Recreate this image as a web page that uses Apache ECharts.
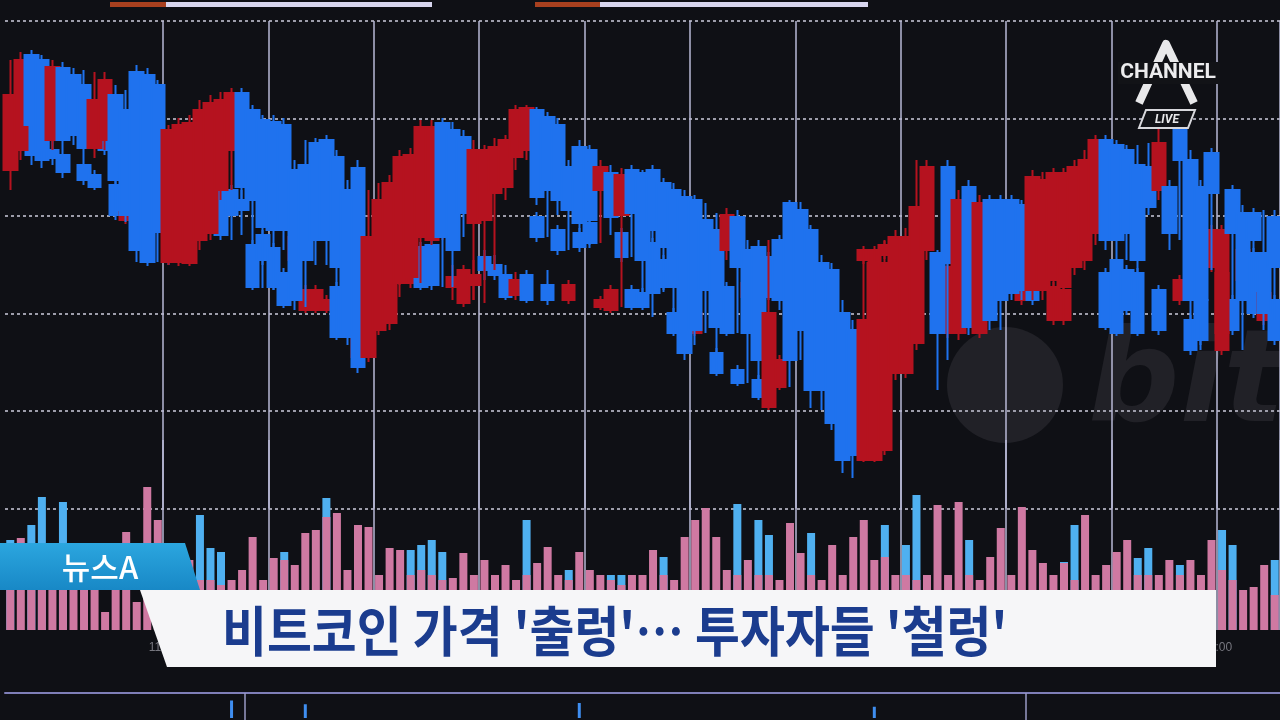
<!DOCTYPE html>
<html><head><meta charset="utf-8">
<script src="https://cdn.jsdelivr.net/npm/echarts@6/dist/echarts.min.js"></script>
<style>html,body{margin:0;padding:0;background:#0f1015;overflow:hidden}#c{width:1280px;height:720px;}</style>
</head><body><div id="c"></div>
<script>
// [open, close, lowest, highest]  (price units, x10,000 KRW)
const mainCandles = [
[826,901,806,936],[846,936,836,944],[941,871,861,946],[936,846,836,941],
[856,929,846,936],[928,856,846,934],[921,861,851,928],[911,848,836,926],[848,896,838,924],
[856,916,846,924],[901,816,781,911],[886,781,774,906],[924,746,734,931],[921,734,730,928],
[911,764,734,916],[734,866,731,871],[734,871,730,878],[733,873,730,881],[756,886,746,896],
[763,893,756,901],[806,896,796,904],[846,903,806,908],[903,809,796,908],[886,796,751,891],
[876,769,708,881],[874,766,706,881],[871,766,746,878],[826,696,686,836],[831,736,689,856],
[853,756,731,858],[856,756,731,861],[839,729,659,846],[806,659,651,816],[828,629,623,836],
[639,759,634,806],[666,796,661,813],[673,813,666,821],[713,839,699,846],[719,841,714,848],
[759,869,713,876],[756,869,751,876],[873,759,709,878],[866,746,709,874],[859,783,759,866],
[773,846,696,856],[776,846,693,851],[803,849,726,858],[809,856,796,861],[839,886,826,891],
[846,888,836,891],[886,799,791,889],[879,806,759,884],[871,796,781,878],[829,786,746,836],
[849,773,749,856],[846,776,751,851],[806,829,753,836],[823,779,761,831],[781,821,689,828],
[826,783,739,831],[823,736,689,826],[826,766,703,831],[813,749,706,818],[806,709,663,813],
[799,643,636,806],[796,666,651,801],[776,706,663,793],[766,669,623,783],[746,781,736,788],
[779,729,663,786],[746,663,613,756],[749,636,599,756],[589,683,586,756],[756,696,686,761],
[793,636,609,796],[786,666,636,794],[766,606,588,771],[733,606,586,741],[726,573,566,733],
[683,536,523,696],[666,541,518,676],[536,676,534,746],[536,733,534,746],[546,733,541,756],
[623,759,616,766],[623,759,618,768],[653,789,646,836],[746,829,736,836],[743,663,606,746],
[829,733,636,836],[663,796,656,806],[809,669,661,816],[663,793,658,801],[796,676,666,801],
[796,696,666,801],[796,703,696,801],[791,706,696,796],[706,819,696,826],[706,816,696,824],
[716,823,676,828],[709,823,676,828],[729,829,721,836],[736,836,726,846],[763,856,751,861],
[856,756,746,861],[851,756,741,856],[846,763,736,851],[831,736,666,851],[829,789,781,853],
[806,853,796,868],[809,763,746,816],[869,836,756,874],[836,696,646,846],[809,696,646,816],
[843,803,726,848],[646,766,641,771],[806,763,696,811],[783,696,646,791],[783,756,683,788],
[743,683,666,786],[779,729,676,786]
];
const ghostCandles = [
[836,876,831,881],[871,896,866,901],[876,841,831,881],[866,836,828,871],
[846,838,831,856],[841,824,818,846],[871,891,866,896],[831,816,811,836],[821,809,806,826],
[863,846,841,868],[811,781,776,816],[776,784,772,788],'-','-',
'-',[781,734,731,786],'-','-','-',
'-',[806,761,756,811],[806,781,756,811],[796,786,761,806],[751,709,706,756],
[761,736,731,766],[748,709,706,753],[723,691,688,728],[736,759,731,764],[686,706,683,711],
[686,706,683,711],[686,696,683,701],[709,659,656,714],[739,676,671,744],[639,666,636,671],
[666,709,661,714],[743,719,714,748],[699,716,696,721],[716,731,711,736],[713,753,708,758],
[749,709,706,754],[751,711,706,756],[759,776,756,781],[709,719,696,731],[693,726,689,731],
[711,721,696,736],[739,726,716,746],[731,721,716,741],[721,699,696,731],[701,716,696,724],
[721,696,693,726],[779,759,754,784],[711,696,691,726],[766,746,741,771],[696,711,692,716],
[763,749,744,768],[773,753,748,778],[689,696,686,700],[686,706,683,711],[763,739,734,768],
[706,689,686,711],[703,689,686,708],[753,703,679,758],[736,709,704,741],[683,663,660,688],
'-',[663,683,660,688],[733,743,728,748],[643,623,620,648],[709,663,660,714],
[626,613,610,631],[699,713,696,718],[616,599,596,621],[739,699,696,744],[609,636,606,641],
'-','-','-','-','-',
'-','-',[736,746,732,750],[734,746,730,750],[741,751,737,755],
[746,736,732,751],[734,746,730,750],'-','-','-',
[663,729,658,734],'-','-',[696,716,691,721],'-',
[706,723,701,728],'-',[696,716,691,721],[763,696,691,768],'-',
[676,709,671,714],[676,706,671,711],'-','-',[809,789,784,814],
[723,669,666,728],[736,663,660,741],[726,686,681,731],[723,663,660,728],'-',
[706,666,661,711],'-',[696,716,691,721],[676,646,641,681],[696,656,651,701],
[729,766,724,771],[663,723,658,728],[696,666,661,701],[716,746,711,751],[743,683,678,748],
[676,703,671,708],[696,656,651,701]
];
const mainVolume = [
70,92,85,70,75,70,65,60,55, 18,40,98,28,143,110,70,55,70,50,
50,45,50,60,93,50,72,70,65,97, 100,113,117,60,105,103,55,82,80,55,
60,55,50,52,77,55,70,55,65,50, 55,67,83,55,50,78,60,55,50,45,
55,55,80,55,50,93,110,122,93,60, 55,70,55,55,50,107,77,55,50,85,
55,93,110,70,73,55,55,50,55,125, 55,128,55,50,73,102,55,123,80,67,
55,67,50,115,55,65,78,90,55,55, 55,70,55,70,55,90,60,50,40,43,
65,35
];
const ghostVolume = [
90,'-',105,133,'-',128,'-','-','-', '-','-','-','-','-','-','-','-','-',115,
82,78,'-','-','-','-','-',78,'-','-', '-',132,'-','-','-','-','-','-','-',80,
85,90,78,'-','-','-','-','-','-','-', 110,'-','-','-',60,'-','-','-',55,55,
'-','-','-',73,'-','-','-','-','-','-', 126,'-',110,95,'-','-','-',97,'-','-',
'-','-','-','-',105,'-',85,135,'-','-', '-','-',90,'-','-','-','-','-','-','-',
'-',68,105,'-','-','-','-','-',72,82, '-','-',65,'-','-','-',100,85,'-','-',
'-',70
];
const bottomMarkIdx = [21, 28, 54, 82];
const bottomMarkVal = [14, 11, 12, 9];
const tickIdx = [15, 65, 115];
const tickText = ['11:00', '13:00', '15:00'];

const categories = mainCandles.map((_, i) => String(i));
const bottomData = bottomMarkIdx.map((k, n) => [String(k), bottomMarkVal[n]]);

const RED = '#b5121f', BLUE = '#1f72ee';
const vLine = (i) => i % 10 === 5 && i >= 15 && i <= 115;
const gridLeft = 5;

const xBase = (gi, extra) => Object.assign({
  type: 'category', data: categories, gridIndex: gi, boundaryGap: true,
  axisLine: { show: false }, axisTick: { show: false }, axisLabel: { show: false },
  splitLine: { show: true, interval: vLine, lineStyle: { color: '#b9b9d6', width: 1.5 } }
}, extra || {});

const option = {
  backgroundColor: '#0f1015',
  animation: false,
  grid: [
    { left: gridLeft, right: 0, top: 21, height: 487.5 },
    { left: gridLeft, right: 0, top: 440, height: 190 },
    { left: gridLeft, right: 0, top: 693, height: 25 }
  ],
  xAxis: [
    xBase(0),
    xBase(1, {
      axisLabel: { show: true, color: '#77777f', fontSize: 12, margin: 12, padding: [0, 10, 0, 0],
        interval: (i) => tickIdx.indexOf(i) >= 0,
        formatter: (v) => { const k = tickIdx.indexOf(Number(v)); return k >= 0 ? tickText[k] : ''; } }
    }),
    xBase(2, { position: 'top', splitLine: { show: false },
      axisLine: { show: true, onZero: false, lineStyle: { color: '#7f7fb8', width: 2 } } })
  ],
  yAxis: [
    { type: 'value', gridIndex: 0, min: 487.5, max: 975, interval: 97.5, scale: true,
      axisLine: { show: false }, axisTick: { show: false }, axisLabel: { show: false },
      splitLine: { show: true, lineStyle: { color: '#9d9daa', width: 2, type: [3, 3] } } },
    { type: 'value', gridIndex: 1, min: 0, max: 190, show: false, splitLine: { show: false } },
    { type: 'value', gridIndex: 2, min: 0, max: 20, show: false, splitLine: { show: false } }
  ],
  series: [
    { type: 'candlestick', name: 'ghost', xAxisIndex: 0, yAxisIndex: 0, data: ghostCandles,
      barWidth: 13,
      itemStyle: { color: RED, color0: BLUE, borderColor: RED, borderColor0: BLUE, borderWidth: 2 } },
    { type: 'candlestick', name: 'price', xAxisIndex: 0, yAxisIndex: 0, data: mainCandles,
      barWidth: 14,
      itemStyle: { color: RED, color0: BLUE, borderColor: RED, borderColor0: BLUE, borderWidth: 2 } },
    { type: 'bar', name: 'vol2', xAxisIndex: 1, yAxisIndex: 1, data: ghostVolume,
      barWidth: 8, itemStyle: { color: '#4fb0f0' } },
    { type: 'bar', name: 'vol', xAxisIndex: 1, yAxisIndex: 1, data: mainVolume,
      barWidth: 8, barGap: '-100%', itemStyle: { color: '#cf79a2' } },
    { type: 'bar', name: 'ind', xAxisIndex: 2, yAxisIndex: 2, data: bottomData,
      barWidth: 3, itemStyle: { color: '#3f8ef0' } }
  ],
  graphic: [
    // watermark (behind series)
    { type: 'circle', z: -1, silent: true, shape: { cx: 1005, cy: 385, r: 58 }, style: { fill: '#212127' } },
    { type: 'text', z: -1, silent: true, x: 1088, y: 388,
      style: { text: 'bithumb', fill: '#212127', font: 'italic bold 128px "DejaVu Sans"', textVerticalAlign: 'middle' } },
    // top scroll bars
    { type: 'rect', z: 50, shape: { x: 110, y: 2, width: 322, height: 5 }, style: { fill: '#d8d6ef' } },
    { type: 'rect', z: 51, shape: { x: 110, y: 2, width: 56, height: 5 }, style: { fill: '#a8401f' } },
    { type: 'rect', z: 50, shape: { x: 535, y: 2, width: 333, height: 5 }, style: { fill: '#d8d6ef' } },
    { type: 'rect', z: 51, shape: { x: 535, y: 2, width: 65, height: 5 }, style: { fill: '#a8401f' } },
    // bottom navigator ticks
    { type: 'line', z: 50, shape: { x1: 245, y1: 693, x2: 245, y2: 720 }, style: { stroke: '#9a9ac4', lineWidth: 1.5 } },
    { type: 'line', z: 50, shape: { x1: 1026, y1: 693, x2: 1026, y2: 720 }, style: { stroke: '#9a9ac4', lineWidth: 1.5 } },
    // CHANNEL A logo
    { type: 'polyline', z: 60, shape: { points: [[1139, 103], [1166, 44], [1194, 103]] },
      style: { stroke: '#e8e8ea', lineWidth: 8, fill: null, lineJoin: 'round' } },
    { type: 'rect', z: 61, shape: { x: 1118, y: 62, width: 102, height: 22 }, style: { fill: '#121317' } },
    { type: 'text', z: 62, x: 1168, y: 73,
      style: { text: 'CHANNEL', fill: '#ececee', font: 'bold 21px "Liberation Sans Narrow", "Roboto", sans-serif', textAlign: 'center', textVerticalAlign: 'middle' } },
    { type: 'polygon', z: 60, shape: { points: [[1146, 110], [1195, 110], [1188, 128], [1139, 128]] },
      style: { fill: '#121317', stroke: '#d8d8dc', lineWidth: 2 } },
    { type: 'text', z: 62, x: 1167, y: 119.5,
      style: { text: 'LIVE', fill: '#e8e8ea', font: 'italic bold 12px "Roboto", sans-serif', textAlign: 'center', textVerticalAlign: 'middle' } },
    // News banner
    { type: 'polygon', z: 70, shape: { points: [[0, 543], [185, 543], [200, 590], [0, 590]] },
      style: { fill: new echarts.graphic.LinearGradient(0, 0, 0, 1, [{ offset: 0, color: '#2ba6df' }, { offset: 1, color: '#1888c6' }]) } },
    { type: 'text', z: 71, x: 100, y: 567,
      style: { text: '뉴스A', fill: '#ffffff', font: '500 31px "Noto Sans CJK KR"', textAlign: 'center', textVerticalAlign: 'middle' } },
    { type: 'polygon', z: 70, shape: { points: [[140, 590], [1216, 590], [1216, 667], [167, 667]] },
      style: { fill: '#f6f6f8' } },
    { type: 'text', z: 71, x: 222, y: 631, scaleX: 0.904, originX: 0, originY: 0,
      style: { text: "비트코인 가격 '출렁'… 투자자들 '철렁'", fill: '#1b3c8e', font: 'bold 54px "Noto Sans CJK KR"', textAlign: 'left', textVerticalAlign: 'middle' } }
  ]
};
const chart = echarts.init(document.getElementById('c'), null, { renderer: 'canvas' });
chart.setOption(option);
</script></body></html>
